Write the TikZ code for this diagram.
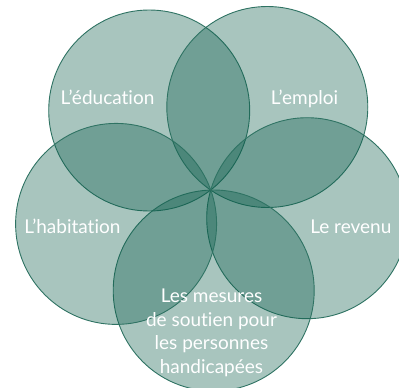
\documentclass[tikz,border=0pt]{standalone}
\usepackage{fontspec}
\setmainfont{Lato}[Ligatures={NoCommon,NoRare,TeX},RawFeature={-liga;-dlig}]
\begin{document}
\begin{tikzpicture}[x=1pt,y=-1pt,
  venn/.style={circle,draw=vline,line width=0.9pt,fill=vfill,fill opacity=0.36,minimum size=201pt,inner sep=0pt},
  lbl/.style={text=white,font=\fontsize{19}{23.5}\selectfont,inner sep=0pt,anchor=base,align=center}]
\definecolor{vfill}{RGB}{13,93,76}
\definecolor{vline}{RGB}{47,115,99}
\useasboundingbox (0,0) rectangle (399,388);
\clip (0,0) rectangle (399,388);
\coordinate (P) at (210.7,190);
\node[venn] (edu) at (149.2,110.5) {};
\node[venn] (emp) at (267.3,107) {};
\node[venn] (rev) at (307.2,218.2) {};
\node[venn] (mes) at (213.7,290.5) {};
\node[venn] (hab) at (116.1,223.9) {};
\node[lbl] (tedu) at (107.5,104) {L’éducation};
\node[lbl] (temp) at (304.5,104) {L’emploi};
\node[lbl] (thab) at (72.4,233) {L’habitation};
\node[lbl] (trev) at (350.8,233) {Le revenu};
\node[lbl] (tmes) at (211.5,373.3) {Les mesures\\de soutien pour\\les personnes\\handicapées};
\end{tikzpicture}
\end{document}
